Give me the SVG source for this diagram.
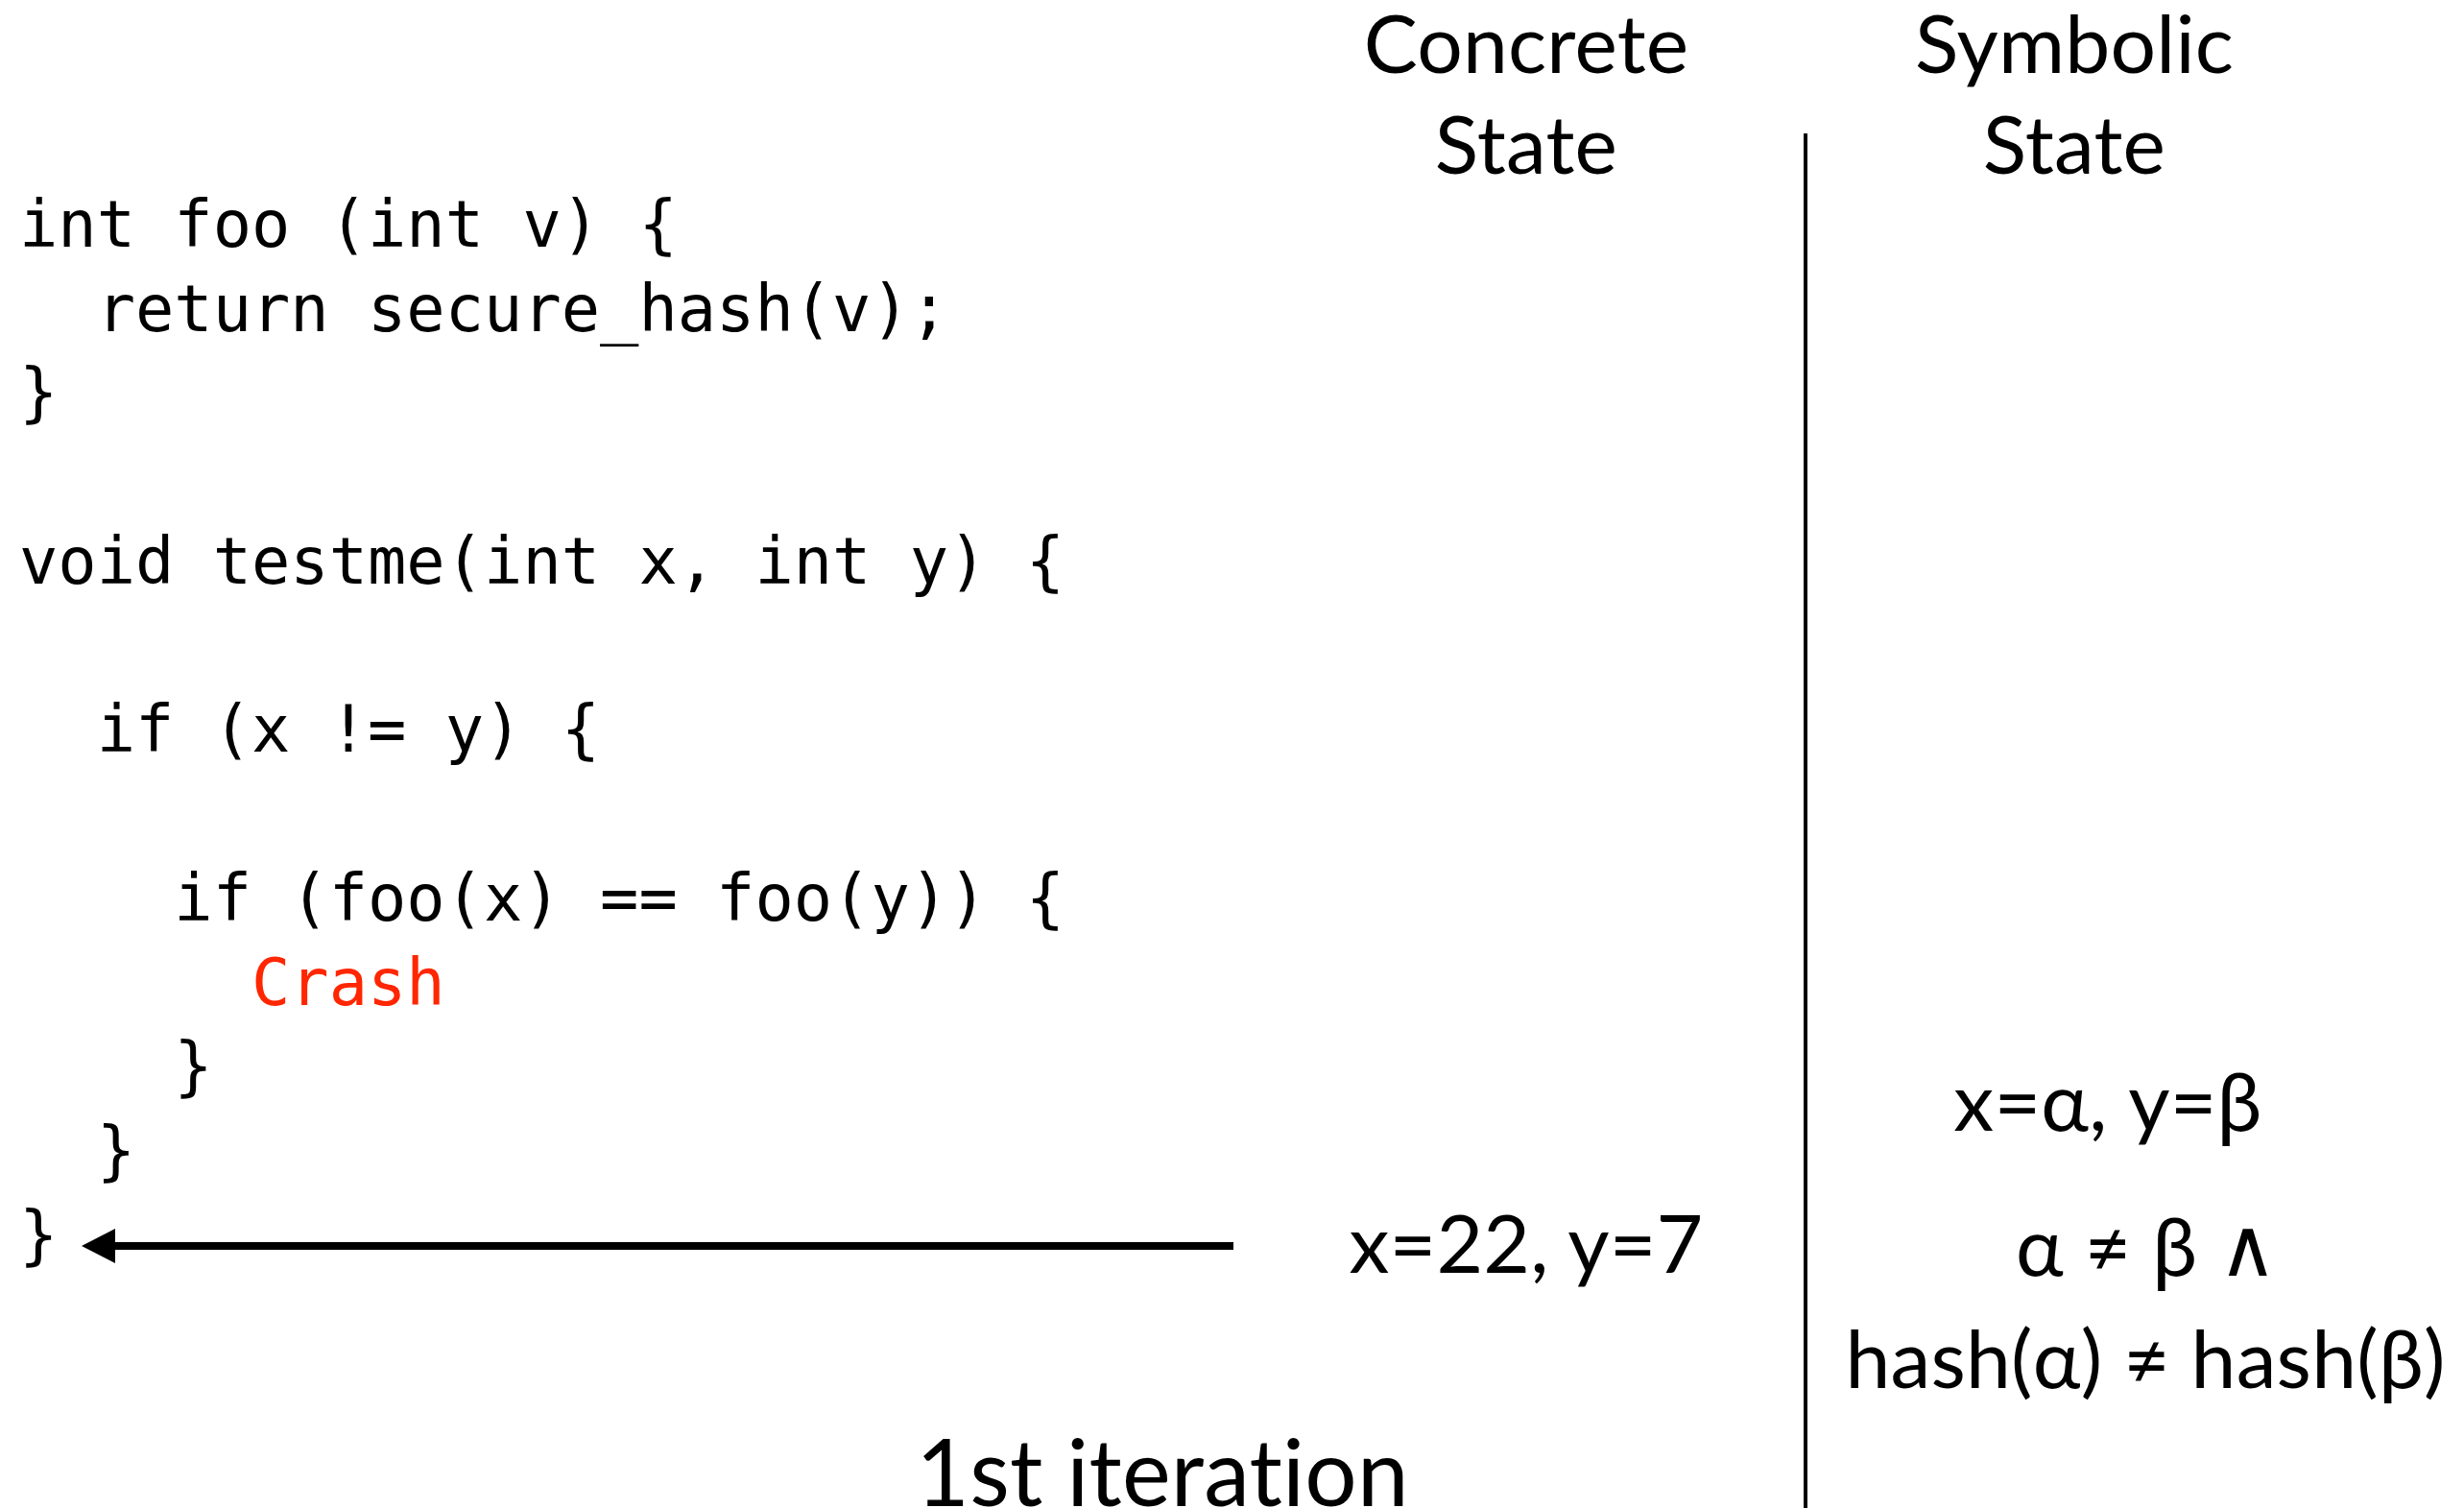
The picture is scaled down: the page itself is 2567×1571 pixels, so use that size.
<svg xmlns="http://www.w3.org/2000/svg" width="2567" height="1571" viewBox="0 0 2567 1571">
<style>
.code{font-family:"DejaVu Sans Mono","Liberation Mono",monospace;font-size:67px;fill:#000;white-space:pre}
.crash{fill:#FF2600}
.lbl{font-family:Lato,"Noto Sans",sans-serif;font-size:84px;fill:#000;text-anchor:middle;letter-spacing:0.2px}
.title{font-family:Lato,"Noto Sans",sans-serif;font-size:96px;fill:#000;text-anchor:middle;letter-spacing:0.2px}
</style>
<rect width="2567" height="1571" fill="#fff"/>
<g id="code">
<text class="code" x="20" y="257">int foo (int v) {</text>
<text class="code" x="20" y="345">  return secure_hash(v);</text>
<text class="code" x="20" y="432">}</text>
<text class="code" x="20" y="608">void testme(int x, int y) {</text>
<text class="code" x="20" y="783">  if (x != y) {</text>
<text class="code" x="20" y="959">    if (foo(x) == foo(y)) {</text>
<text class="code crash" x="20" y="1047">      Crash</text>
<text class="code" x="20" y="1134">    }</text>
<text class="code" x="20" y="1222">  }</text>
<text class="code" x="20" y="1310">}</text>
</g>
<g id="headers">
<text class="lbl" x="1590" y="76">Concrete</text>
<text class="lbl" x="1590" y="181">State</text>
<text class="lbl" x="2161" y="76">Symbolic</text>
<text class="lbl" x="2161" y="181">State</text>
</g>
<g id="divider">
<line x1="1881" y1="139" x2="1881" y2="1571" stroke="#000" stroke-width="4"/>
</g>
<g id="concrete-state">
<text class="lbl" x="1590" y="1326">x=22, y=7</text>
</g>
<g id="symbolic-state">
<text class="lbl" x="2196" y="1178">x=α, y=β</text>
<text class="lbl" x="2236" y="1329">α ≠ β ∧</text>
<text class="lbl" x="2235" y="1446">hash(α) ≠ hash(β)</text>
</g>
<g id="connectors">
<line x1="1285" y1="1298" x2="120" y2="1298" stroke="#000" stroke-width="8"/>
<path d="M85,1298 L120,1280 L120,1316 Z" fill="#000"/>
</g>
<g id="caption">
<text class="title" x="1211" y="1569">1st iteration</text>
</g>
</svg>
